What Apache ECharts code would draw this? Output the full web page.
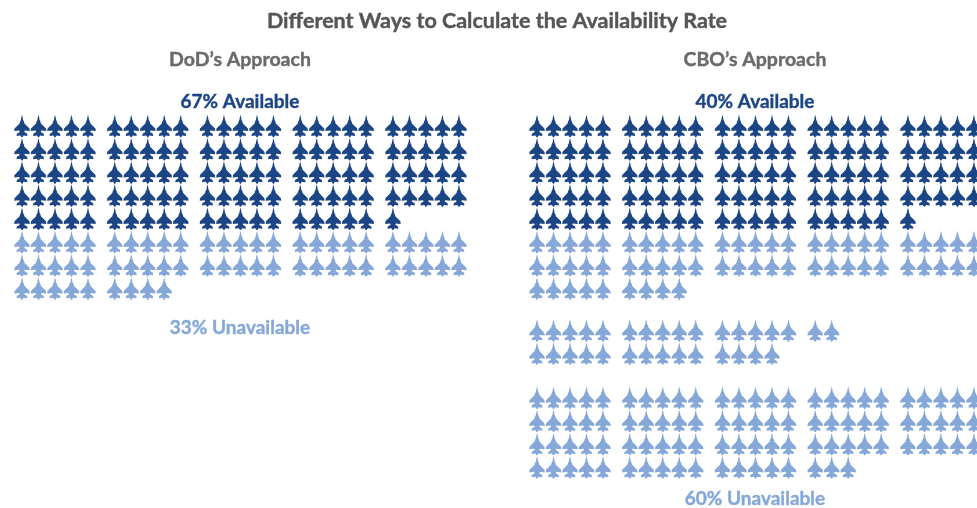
<!DOCTYPE html>
<html>
<head>
<meta charset="utf-8">
<style>
  html, body { margin: 0; padding: 0; background: #fff; overflow: hidden; }
  #chart { width: 977px; height: 508px; }
</style>
<script src="https://cdn.jsdelivr.net/npm/echarts@6/dist/echarts.min.js"></script>
</head>
<body>
<div id="chart"></div>
<script>
// Number of planes in each row, one list per block of rows
var dodAvailable = [[25, 25, 25, 25, 21]]
var dodUnavailable = [[25, 25, 9]]
var cboAvailable = [[25, 25, 25, 25, 21]]
var cboUnavailable = [[25, 25, 9], [17, 14], [25, 25, 25, 18]]

var chartTitle = 'Different Ways to Calculate the Availability Rate'
var panelTitles = ['DoD’s Approach', 'CBO’s Approach']
var availableLabels = ['67% Available', '40% Available']
var unavailableLabels = ['33% Unavailable', '60% Unavailable']

var DARK = '#1c4585'
var LIGHT = '#86a8d8'
var GREY = '#6a6a6a'

var COL_W = 16.5
var ROW_H = 23.2
var COLS = 26.6
var ROWS = 14.71
var SQUAD_GAP = 0.62 // extra gap after every 5 planes, in plane widths
var BLOCK_GAPS = [0, 0.81, 0.9] // extra gap above a block of rows, in rows

var jet = 'path://M15 0 L16.4 6 L17 10 L19 14 L19.6 17 L29.5 27 L30 32 L20.5 31 L19.5 33.5 ' +
  'L25 37 L25.5 41.5 L18 40.5 L16 44 L14 44 L12 40.5 L4.5 41.5 L5 37 L10.5 33.5 L9.5 31 ' +
  'L0 32 L0.5 27 L10.4 17 L11 14 L13 10 L13.6 6 Z'

// rowStart: row number where these blocks start
function planes (blocks, rowStart) {
  var pts = []
  var row = rowStart
  var offset = 0
  blocks.forEach(function (block, b) {
    offset += BLOCK_GAPS[b]
    block.forEach(function (count) {
      for (var i = 0; i < count; i++) {
        pts.push([i + Math.floor(i / 5) * SQUAD_GAP, row + offset])
      }
      row++
    })
  })
  return pts
}

function planeSeries (name, idx, data, color) {
  return {
    name: name,
    type: 'scatter',
    xAxisIndex: idx,
    yAxisIndex: idx,
    symbol: jet,
    symbolSize: [15.5, 22.5],
    silent: true,
    itemStyle: { color: color, opacity: 1 },
    data: data
  }
}

function hiddenAxis (max, inverse) {
  return { type: 'value', show: false, min: 0, max: max, inverse: inverse }
}

function text (str, x, y, size, color) {
  return {
    text: str,
    left: x,
    top: y,
    padding: 0,
    textAlign: 'center',
    textVerticalAlign: 'middle',
    textStyle: {
      fontFamily: 'Lato',
      fontWeight: 'bold',
      fontSize: size,
      color: color,
      textBorderColor: color,
      textBorderWidth: 0.4
    }
  }
}

var option = {
  animation: false,
  backgroundColor: '#fff',
  title: [
    text(chartTitle, 497, 21, 21.5, '#555555'),
    text(panelTitles[0], 240, 60, 19.5, GREY),
    text(panelTitles[1], 755, 60, 19.5, GREY),
    text(availableLabels[0], 240, 102, 19, DARK),
    text(availableLabels[1], 755, 102, 19, DARK),
    text(unavailableLabels[0], 240, 328, 19, LIGHT),
    text(unavailableLabels[1], 755, 499, 19, LIGHT)
  ],
  grid: [
    { left: 22, top: 126, width: COLS * COL_W, height: ROWS * ROW_H },
    { left: 537, top: 126, width: COLS * COL_W, height: ROWS * ROW_H }
  ],
  xAxis: [hiddenAxis(COLS, false), Object.assign(hiddenAxis(COLS, false), { gridIndex: 1 })],
  yAxis: [hiddenAxis(ROWS, true), Object.assign(hiddenAxis(ROWS, true), { gridIndex: 1 })],
  series: [
    planeSeries('DoD available', 0, planes(dodAvailable, 0), DARK),
    planeSeries('DoD unavailable', 0, planes(dodUnavailable, 5), LIGHT),
    planeSeries('CBO available', 1, planes(cboAvailable, 0), DARK),
    planeSeries('CBO unavailable', 1, planes(cboUnavailable, 5), LIGHT)
  ]
}

var chart = echarts.init(document.getElementById('chart'))
chart.setOption(option)
</script>
</body>
</html>
